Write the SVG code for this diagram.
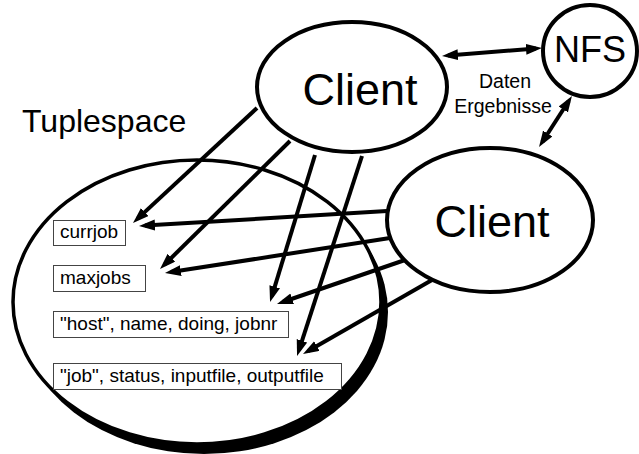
<svg xmlns="http://www.w3.org/2000/svg" width="639" height="454" viewBox="0 0 639 454">
  <style>
    text { font-family: "Liberation Sans", Arial, sans-serif; fill: #000; }
    .node { fill: #fff; stroke: #000; stroke-width: 4; }
    .tuple { fill: #fff; stroke: #444; stroke-width: 1; }
    .tuple-text { font-size: 19px; }
    .conn { fill: none; stroke: #000; stroke-width: 4; marker-end: url(#head); }
    .both { marker-start: url(#head); }
  </style>
  <defs>
    <marker id="head" markerUnits="userSpaceOnUse" markerWidth="18" markerHeight="12" refX="10" refY="5.5" orient="auto-start-reverse">
      <path d="M0,0 L16,5.5 L0,11 z" fill="#000"/>
    </marker>
  </defs>

  <rect width="639" height="454" fill="#fff"/>

  <text x="22" y="132" font-size="32">Tuplespace</text>

  <!-- tuple space with drop shadow -->
  <g id="tuplespace">
    <ellipse cx="204" cy="312" rx="184" ry="142" fill="#000"/>
    <ellipse cx="197" cy="302" rx="184" ry="142" fill="#fff" stroke="#000" stroke-width="3.5"/>
  </g>

  <g id="tuple-currjob">
    <rect class="tuple" x="53.5" y="220.5" width="72" height="25"/>
    <text class="tuple-text" x="60" y="238">currjob</text>
  </g>
  <g id="tuple-maxjobs">
    <rect class="tuple" x="53.5" y="265.5" width="92" height="26"/>
    <text class="tuple-text" x="60" y="284">maxjobs</text>
  </g>
  <g id="tuple-host">
    <rect class="tuple" x="53.5" y="311.5" width="235" height="26"/>
    <text class="tuple-text" x="60" y="330">"host", name, doing, jobnr</text>
  </g>
  <g id="tuple-job">
    <rect class="tuple" x="53.5" y="363.5" width="288" height="26"/>
    <text class="tuple-text" x="60" y="382">"job", status, inputfile, outputfile</text>
  </g>

  <g id="connectors">
    <!-- upper client to tuples -->
    <line class="conn" x1="257" y1="108" x2="137.4" y2="218.9"/>
    <line class="conn" x1="290" y1="141" x2="164.3" y2="264.8"/>
    <line class="conn" x1="315" y1="155" x2="271.8" y2="296.3"/>
    <line class="conn" x1="362" y1="156" x2="298.9" y2="350.3"/>
    <!-- lower client to tuples -->
    <line class="conn" x1="387" y1="211" x2="145" y2="225.6"/>
    <line class="conn" x1="390" y1="238" x2="170.9" y2="272.1"/>
    <line class="conn" x1="405" y1="260" x2="282.7" y2="302"/>
    <line class="conn" x1="432" y1="280" x2="308.2" y2="351"/>
    <!-- file server links -->
    <line class="conn both" x1="448" y1="55.5" x2="536" y2="48.5"/>
    <line class="conn both" x1="568.7" y1="101" x2="542.3" y2="142"/>
  </g>

  <g id="client-upper">
    <ellipse class="node" cx="352" cy="87" rx="95" ry="65"/>
    <text x="360" y="105" font-size="45" text-anchor="middle">Client</text>
  </g>

  <g id="client-lower">
    <ellipse class="node" cx="490" cy="220" rx="103" ry="72"/>
    <text x="492" y="237" font-size="45" text-anchor="middle">Client</text>
  </g>

  <g id="nfs">
    <ellipse class="node" cx="590" cy="51" rx="47" ry="46"/>
    <text x="590" y="62" font-size="36" text-anchor="middle">NFS</text>
  </g>

  <g id="link-label">
    <text x="505" y="88" font-size="19.5" text-anchor="middle">Daten</text>
    <text x="503" y="113" font-size="19.5" text-anchor="middle">Ergebnisse</text>
  </g>
</svg>
